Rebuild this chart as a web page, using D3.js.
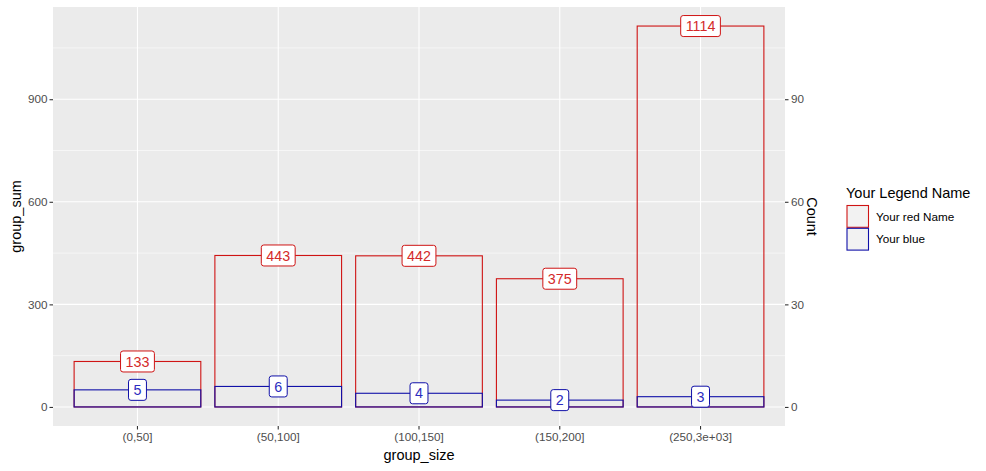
<!DOCTYPE html>
<html>
<head>
<meta charset="utf-8">
<script src="https://cdn.jsdelivr.net/npm/d3@7"></script>
<style>
  html, body { margin: 0; padding: 0; background: #fff; }
  svg { display: block; font-family: "Liberation Sans", Arial, sans-serif; }
</style>
</head>
<body>
<svg id="chart" width="986" height="471"></svg>
<script>
const categories = ["(0,50]", "(50,100]", "(100,150]", "(150,200]", "(250,3e+03]"];
const groupSum = [133, 443, 442, 375, 1114];
const counts = [5, 6, 4, 2, 3];
const leftTicks = [0, 300, 600, 900];
const leftMinor = [150, 450, 750, 1050];
const rightTicks = [0, 30, 60, 90];
const countFactor = 10;
const legendLabels = ["Your red Name", "Your blue"];
const legendTitle = "Your Legend Name";

const RED = "#cf1414", RED_TXT = "#d42a2a";
const BLUE = "#1010a8", BLUE_TXT = "#2c2cc0";

const svg = d3.select("#chart");
const P = { left: 53, right: 785, top: 7, bottom: 426 };

const ymax = d3.max(groupSum), ypad = ymax * 0.05;
const y = d3.scaleLinear().domain([-ypad, ymax + ypad]).range([P.bottom, P.top]);
const yR = d3.scaleLinear().domain([-ypad / countFactor, (ymax + ypad) / countFactor]).range([P.bottom, P.top]);
const x = d3.scaleBand().domain(categories).range([P.left, P.right]).paddingInner(0.1).paddingOuter(0.15);

// panel
svg.append("rect").attr("x", P.left).attr("y", P.top)
  .attr("width", P.right - P.left).attr("height", P.bottom - P.top).attr("fill", "#ebebeb");

const grid = svg.append("g");
grid.selectAll("line.minor").data(leftMinor).join("line")
  .attr("x1", P.left).attr("x2", P.right)
  .attr("y1", d => y(d)).attr("y2", d => y(d))
  .attr("stroke", "#fff").attr("stroke-width", 0.55);
grid.selectAll("line.majy").data(leftTicks).join("line")
  .attr("x1", P.left).attr("x2", P.right)
  .attr("y1", d => y(d)).attr("y2", d => y(d))
  .attr("stroke", "#fff").attr("stroke-width", 1.1);
grid.selectAll("line.majx").data(categories).join("line")
  .attr("y1", P.top).attr("y2", P.bottom)
  .attr("x1", d => x(d) + x.bandwidth() / 2).attr("x2", d => x(d) + x.bandwidth() / 2)
  .attr("stroke", "#fff").attr("stroke-width", 1.1);

// red bars
svg.append("g").selectAll("rect").data(categories).join("rect")
  .attr("x", d => x(d)).attr("width", x.bandwidth())
  .attr("y", (d, i) => y(groupSum[i])).attr("height", (d, i) => y(0) - y(groupSum[i]))
  .attr("fill", "none").attr("stroke", RED).attr("stroke-width", 1.1);
// blue bars
svg.append("g").selectAll("rect").data(categories).join("rect")
  .attr("x", d => x(d)).attr("width", x.bandwidth())
  .attr("y", (d, i) => yR(counts[i])).attr("height", (d, i) => yR(0) - yR(counts[i]))
  .attr("fill", "none").attr("stroke", BLUE).attr("stroke-width", 1.1);

function addLabel(g, cx, cy, txt, stroke, color) {
  const t = g.append("text").attr("x", cx).attr("y", cy).attr("dy", "0.36em")
    .attr("text-anchor", "middle").attr("font-size", 14.3).attr("fill", color).text(txt);
  const w = t.node().getComputedTextLength();
  g.insert("rect", () => t.node())
    .attr("x", cx - w / 2 - 5).attr("y", cy - 10.5).attr("width", w + 10).attr("height", 21)
    .attr("rx", 2.5).attr("ry", 2.5)
    .attr("fill", "#fff").attr("stroke", stroke).attr("stroke-width", 1);
}
const labG = svg.append("g");
categories.forEach((c, i) => {
  const cx = x(c) + x.bandwidth() / 2;
  addLabel(labG.append("g"), cx, y(groupSum[i]), String(groupSum[i]), RED, RED_TXT);
});
categories.forEach((c, i) => {
  const cx = x(c) + x.bandwidth() / 2;
  addLabel(labG.append("g"), cx, yR(counts[i]), String(counts[i]), BLUE, BLUE_TXT);
});

// axes
const axL = d3.axisLeft(y).tickValues(leftTicks).tickSize(3.5).tickPadding(2);
const gL = svg.append("g").attr("transform", `translate(${P.left},0)`).call(axL);
const axR = d3.axisRight(yR).tickValues(rightTicks).tickSize(3.5).tickPadding(2.5);
const gR = svg.append("g").attr("transform", `translate(${P.right},0)`).call(axR);
const axB = d3.axisBottom(x).tickSize(3.5).tickPadding(3.5);
const gB = svg.append("g").attr("transform", `translate(0,${P.bottom})`).call(axB);
[gL, gR, gB].forEach(g => {
  g.select(".domain").remove();
  g.selectAll(".tick line").attr("stroke", "#333").attr("stroke-width", 1.1);
  g.selectAll(".tick text").attr("fill", "#4d4d4d").attr("font-size", 11.7)
    .attr("font-family", '"Liberation Sans", Arial, sans-serif');
});

// axis titles
svg.append("text").attr("transform", `translate(21,${(P.top + P.bottom) / 2}) rotate(-90)`)
  .attr("text-anchor", "middle").attr("font-size", 14.5).attr("fill", "#000").text("group_sum");
svg.append("text").attr("transform", `translate(807,${(P.top + P.bottom) / 2}) rotate(90)`)
  .attr("text-anchor", "middle").attr("font-size", 14.5).attr("fill", "#000").text("Count");
svg.append("text").attr("x", (P.left + P.right) / 2).attr("y", 460)
  .attr("text-anchor", "middle").attr("font-size", 14.5).attr("fill", "#000").text("group_size");

// legend
const lg = svg.append("g");
lg.append("text").attr("x", 846).attr("y", 197.5).attr("font-size", 14.5).attr("fill", "#000").text(legendTitle);
const keyColors = [RED, BLUE];
legendLabels.forEach((lab, i) => {
  const ky = 205.5 + i * 22.8;
  lg.append("rect").attr("x", 847).attr("y", ky).attr("width", 21.5).attr("height", 21.8)
    .attr("fill", "#f2f2f2").attr("stroke", keyColors[i]).attr("stroke-width", 1.1);
  lg.append("text").attr("x", 876).attr("y", ky + 11).attr("dy", "0.35em")
    .attr("font-size", 11.7).attr("fill", "#000").text(lab);
});
</script>
</body>
</html>
